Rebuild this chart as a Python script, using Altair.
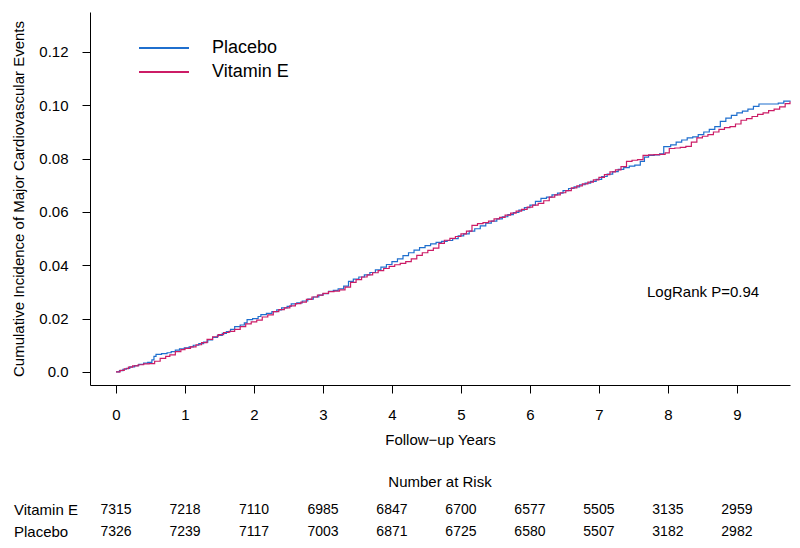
import altair as alt
import pandas as pd

# ---- curve data ----
placebo_t = [0.00, 0.05, 0.10, 0.15, 0.20, 0.27, 0.33, 0.40, 0.46, 0.52, 0.55, 0.58, 0.66, 0.74, 0.80,
             0.86, 0.92, 0.99, 1.06, 1.12, 1.20, 1.27, 1.33, 1.40, 1.47, 1.54, 1.60, 1.66, 1.72, 1.80,
             1.86, 1.90, 1.98, 2.06, 2.10, 2.18, 2.26, 2.33, 2.40, 2.48, 2.54, 2.62, 2.70, 2.78, 2.86,
             2.94, 3.00, 3.08, 3.15, 3.22, 3.30, 3.37, 3.44, 3.52, 3.60, 3.68, 3.76, 3.84, 3.92, 4.00,
             4.08, 4.16, 4.24, 4.32, 4.40, 4.48, 4.56, 4.64, 4.72, 4.80, 4.88, 4.96, 5.04, 5.12, 5.20,
             5.28, 5.36, 5.44, 5.52, 5.60, 5.68, 5.76, 5.84, 5.92, 6.00, 6.08, 6.16, 6.24, 6.32, 6.40,
             6.48, 6.56, 6.64, 6.72, 6.80, 6.88, 6.96, 7.04, 7.12, 7.20, 7.28, 7.36, 7.44, 7.52, 7.60,
             7.66, 7.72, 7.80, 7.88, 7.94, 8.04, 8.12, 8.20, 8.28, 8.36, 8.44, 8.52, 8.60, 8.68, 8.76,
             8.84, 8.92, 9.00, 9.08, 9.16, 9.24, 9.32, 9.60, 9.68, 9.77]
placebo_v = [0.0000, 0.0005, 0.0010, 0.0013, 0.0019, 0.0024, 0.0028, 0.0033, 0.0036, 0.0045, 0.0058, 0.0066, 0.0069, 0.0072, 0.0076,
             0.0082, 0.0087, 0.0090, 0.0094, 0.0100, 0.0106, 0.0112, 0.0120, 0.0130, 0.0137, 0.0145, 0.0151, 0.0160, 0.0170, 0.0176,
             0.0184, 0.0196, 0.0200, 0.0208, 0.0215, 0.0220, 0.0226, 0.0233, 0.0240, 0.0246, 0.0255, 0.0259, 0.0266, 0.0273, 0.0281,
             0.0288, 0.0294, 0.0302, 0.0306, 0.0312, 0.0322, 0.0340, 0.0348, 0.0356, 0.0364, 0.0373, 0.0383, 0.0393, 0.0403, 0.0414,
             0.0424, 0.0436, 0.0447, 0.0457, 0.0466, 0.0474, 0.0480, 0.0486, 0.0490, 0.0493, 0.0500, 0.0510, 0.0518, 0.0528, 0.0537,
             0.0548, 0.0558, 0.0566, 0.0574, 0.0582, 0.0590, 0.0598, 0.0607, 0.0616, 0.0626, 0.0640, 0.0651, 0.0656, 0.0664, 0.0671,
             0.0680, 0.0688, 0.0694, 0.0702, 0.0708, 0.0715, 0.0722, 0.0733, 0.0742, 0.0751, 0.0760, 0.0766, 0.0772, 0.0776, 0.0790,
             0.0806, 0.0812, 0.0814, 0.0818, 0.0845, 0.0852, 0.0862, 0.0870, 0.0878, 0.0882, 0.0890, 0.0900, 0.0910, 0.0920, 0.0940,
             0.0952, 0.0962, 0.0972, 0.0978, 0.0986, 0.0996, 0.1005, 0.1008, 0.1016, 0.1018]

vite_t = [0.00, 0.06, 0.12, 0.18, 0.24, 0.32, 0.40, 0.48, 0.56, 0.64, 0.72, 0.78, 0.86, 0.94, 1.00,
          1.08, 1.16, 1.24, 1.32, 1.40, 1.48, 1.56, 1.64, 1.72, 1.80, 1.88, 1.96, 2.04, 2.12, 2.20,
          2.28, 2.36, 2.44, 2.52, 2.60, 2.68, 2.76, 2.84, 2.92, 3.00, 3.08, 3.16, 3.24, 3.32, 3.40,
          3.48, 3.56, 3.64, 3.72, 3.80, 3.88, 3.96, 4.04, 4.12, 4.20, 4.28, 4.36, 4.44, 4.52, 4.60,
          4.68, 4.76, 4.84, 4.92, 5.00, 5.08, 5.16, 5.24, 5.32, 5.40, 5.48, 5.56, 5.64, 5.72, 5.80,
          5.88, 5.96, 6.04, 6.12, 6.20, 6.28, 6.36, 6.44, 6.52, 6.60, 6.68, 6.76, 6.84, 6.92, 7.00,
          7.08, 7.16, 7.24, 7.32, 7.40, 7.48, 7.56, 7.64, 7.72, 7.80, 7.88, 7.96, 8.02, 8.10, 8.18,
          8.26, 8.34, 8.42, 8.50, 8.58, 8.66, 8.74, 8.82, 8.90, 8.98, 9.06, 9.14, 9.22, 9.30, 9.38,
          9.46, 9.54, 9.62, 9.70, 9.77]
vite_v = [0.0000, 0.0006, 0.0012, 0.0018, 0.0023, 0.0027, 0.0030, 0.0031, 0.0040, 0.0051, 0.0058, 0.0064, 0.0076, 0.0084, 0.0088,
          0.0094, 0.0102, 0.0110, 0.0122, 0.0132, 0.0140, 0.0148, 0.0152, 0.0160, 0.0170, 0.0180, 0.0188, 0.0194, 0.0206, 0.0214,
          0.0226, 0.0234, 0.0240, 0.0248, 0.0256, 0.0262, 0.0272, 0.0281, 0.0288, 0.0295, 0.0301, 0.0303, 0.0308, 0.0318, 0.0336,
          0.0346, 0.0356, 0.0364, 0.0372, 0.0380, 0.0388, 0.0396, 0.0402, 0.0407, 0.0414, 0.0424, 0.0437, 0.0447, 0.0456, 0.0464,
          0.0482, 0.0494, 0.0501, 0.0508, 0.0518, 0.0528, 0.0550, 0.0556, 0.0560, 0.0566, 0.0574, 0.0580, 0.0588, 0.0596, 0.0603,
          0.0610, 0.0618, 0.0626, 0.0632, 0.0642, 0.0656, 0.0664, 0.0672, 0.0680, 0.0690, 0.0698, 0.0705, 0.0712, 0.0720, 0.0730,
          0.0740, 0.0750, 0.0758, 0.0770, 0.0790, 0.0794, 0.0796, 0.0812, 0.0814, 0.0815, 0.0816, 0.0822, 0.0838, 0.0840, 0.0842,
          0.0846, 0.0862, 0.0878, 0.0884, 0.0890, 0.0900, 0.0910, 0.0916, 0.0920, 0.0930, 0.0944, 0.0950, 0.0958, 0.0966, 0.0972,
          0.0980, 0.0986, 0.0994, 0.1006, 0.1014]

groups = ["Placebo", "Vitamin E"]
colors = ["#1F6FCE", "#CC1C66"]

# ---- number at risk ----
risk_years = [0, 1, 2, 3, 4, 5, 6, 7, 8, 9]
risk_rows = ["Vitamin E", "Placebo"]
risk_vite = [7315, 7218, 7110, 6985, 6847, 6700, 6577, 5505, 3135, 2959]
risk_placebo = [7326, 7239, 7117, 7003, 6871, 6725, 6580, 5507, 3182, 2982]

x_ticks = [0, 1, 2, 3, 4, 5, 6, 7, 8, 9]
y_ticks = [0.0, 0.02, 0.04, 0.06, 0.08, 0.10, 0.12]

FONT = "Liberation Sans"

curves = pd.concat([
    pd.DataFrame({"group": "Placebo", "t": placebo_t, "v": placebo_v}),
    pd.DataFrame({"group": "Vitamin E", "t": vite_t, "v": vite_v}),
])

xscale = alt.Scale(domain=[-0.377, 9.77], nice=False, zero=False)
yscale = alt.Scale(domain=[-0.0049, 0.135], nice=False, zero=False)
cscale = alt.Scale(domain=groups, range=colors)

lines = alt.Chart(curves).mark_line(interpolate="step-after", strokeWidth=1.2).encode(
    x=alt.X("t:Q", scale=xscale, title="Follow\u2212up Years",
            axis=alt.Axis(values=x_ticks, format="d", grid=False, tickSize=8,
                          labelPadding=14, titlePadding=10, domainColor="black",
                          tickColor="black", labelColor="black", titleColor="black",
                          labelFontSize=15, titleFontSize=15, labelFont=FONT, titleFont=FONT,
                          titleFontWeight="normal", labelFlush=False)),
    y=alt.Y("v:Q", scale=yscale, title="Cumulative Incidence of Major Cardiovascular Events",
            axis=alt.Axis(values=y_ticks, grid=False, tickSize=8, labelPadding=14,
                          labelExpr="datum.value == 0 ? '0.0' : format(datum.value, '.2f')",
                          titlePadding=12, domainColor="black", tickColor="black",
                          labelColor="black", titleColor="black", labelFontSize=15,
                          titleFontSize=15, labelFont=FONT, titleFont=FONT,
                          titleFontWeight="normal", labelFlush=False)),
    color=alt.Color("group:N", scale=cscale, legend=None),
)

# manual legend
leg_df = pd.DataFrame({"group": groups, "row": [0, 1]})
leg_y = alt.Scale(domain=[0, 1], range=[36, 60])
leg_lines = alt.Chart(leg_df).mark_rule(strokeWidth=2).encode(
    x=alt.value(49), x2=alt.value(99),
    y=alt.Y("row:Q", scale=leg_y, axis=None),
    color=alt.Color("group:N", scale=cscale, legend=None),
)
leg_text = alt.Chart(leg_df).mark_text(align="left", baseline="middle", fontSize=18,
                                        font=FONT, color="black").encode(
    x=alt.value(122),
    y=alt.Y("row:Q", scale=leg_y, axis=None),
    text="group:N",
)

pval = alt.Chart(pd.DataFrame({"label": ["LogRank P=0.94"]})).mark_text(
    align="left", baseline="middle", fontSize=15, font=FONT, color="black"
).encode(x=alt.value(557), y=alt.value(280), text="label:N")

# number at risk table
risk_df = pd.concat([
    pd.DataFrame({"t": risk_years, "n": risk_vite, "row": 0}),
    pd.DataFrame({"t": risk_years, "n": risk_placebo, "row": 1}),
])
row_y = alt.Scale(domain=[0, 1], range=[498, 520])
risk_text = alt.Chart(risk_df).mark_text(align="center", baseline="middle", fontSize=14,
                                          font=FONT, color="black").encode(
    x=alt.X("t:Q", scale=xscale),
    y=alt.Y("row:Q", scale=row_y, axis=None),
    text="n:Q",
)
row_labels = alt.Chart(pd.DataFrame({"name": risk_rows, "row": [0, 1]})).mark_text(
    align="left", baseline="middle", fontSize=15, font=FONT, color="black"
).encode(
    x=alt.value(-76),
    y=alt.Y("row:Q", scale=row_y, axis=None),
    text="name:N",
)
risk_title = alt.Chart(pd.DataFrame({"label": ["Number at Risk"]})).mark_text(
    align="center", baseline="middle", fontSize=15, font=FONT, color="black"
).encode(x=alt.value(350), y=alt.value(470), text="label:N")

chart = alt.layer(
    lines, leg_lines, leg_text, pval, risk_text, row_labels, risk_title
).resolve_scale(y="independent").properties(
    width=700, height=373,
    padding={"left": 82, "top": 4, "right": 2, "bottom": 158},
    autosize=alt.AutoSizeParams(type="none"),
).configure_view(strokeWidth=0).configure_axis(domainWidth=1, tickWidth=1)

chart.save("out.html", embed_options={"renderer": "svg", "actions": False})
